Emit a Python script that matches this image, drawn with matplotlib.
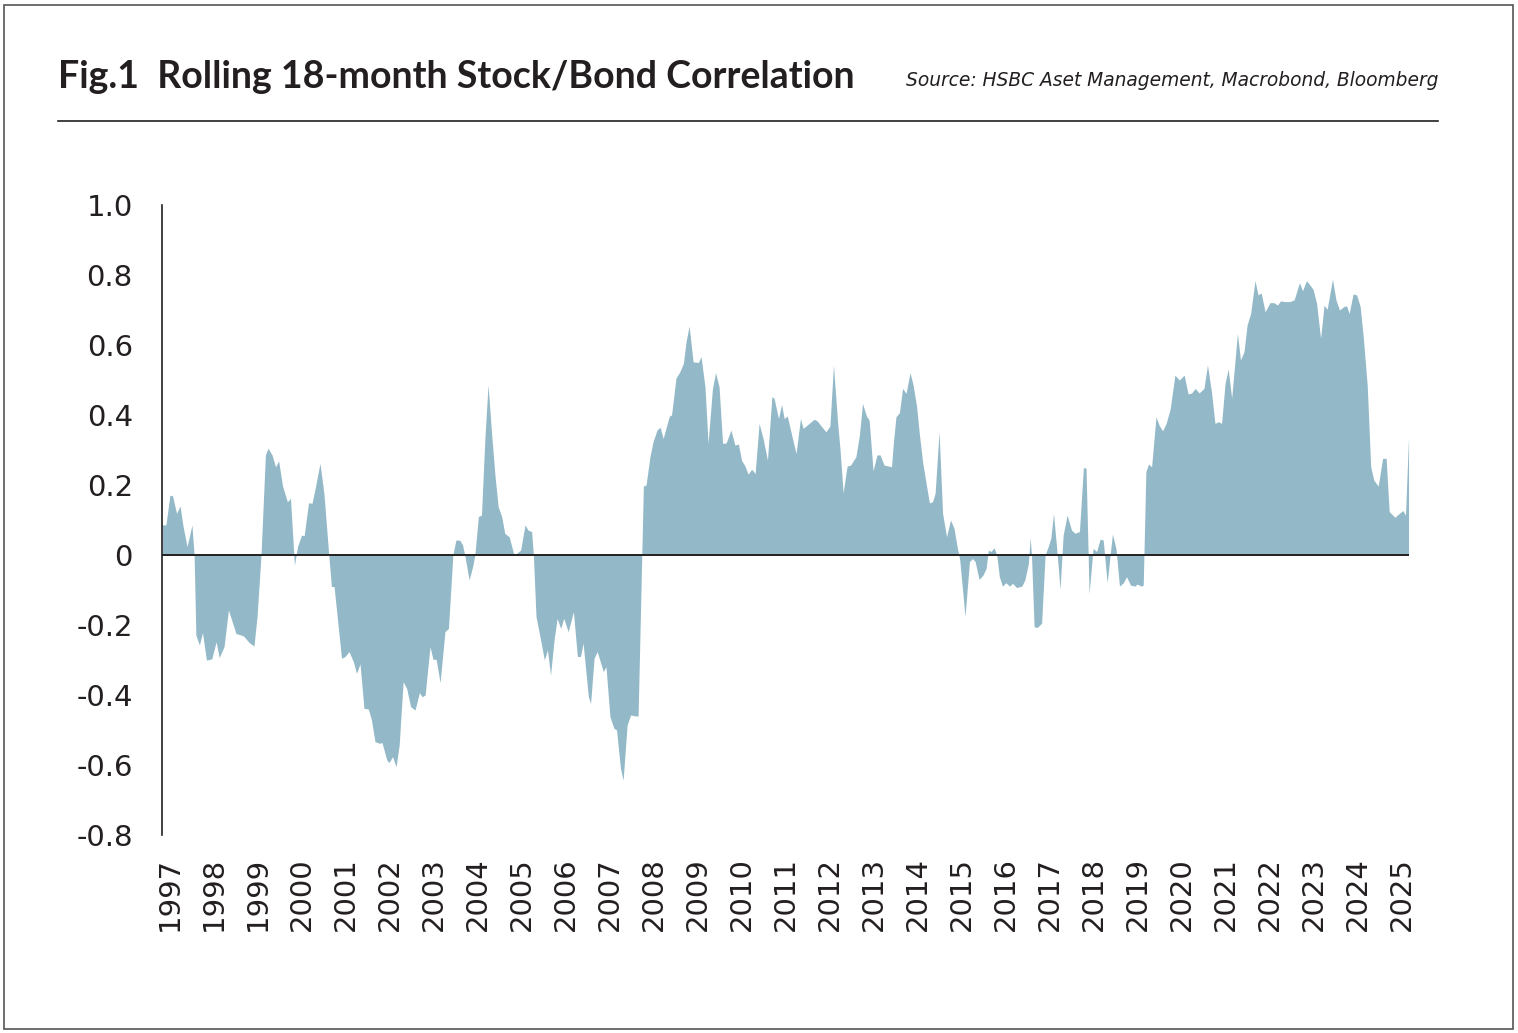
import matplotlib
matplotlib.use("Agg")
import matplotlib.pyplot as plt
import matplotlib.patches as mpatches
import numpy as np

plt.rcParams['font.family'] = ['DejaVu Sans']

# rolling 18m stock/bond correlation (decimal year, value)
dates = [
    1996.83, 1996.91, 1997.00, 1997.06, 1997.15, 1997.23, 1997.30, 1997.39, 1997.50, 1997.55,
    1997.59, 1997.67, 1997.74, 1997.83, 1997.95, 1998.05, 1998.12, 1998.23, 1998.33, 1998.50,
    1998.67, 1998.80, 1998.91, 1998.98, 1999.07, 1999.17, 1999.23, 1999.32, 1999.40, 1999.47,
    1999.56, 1999.67, 1999.74, 1999.83, 1999.90, 1999.99, 2000.05, 2000.15, 2000.23, 2000.30,
    2000.41, 2000.50, 2000.61, 2000.67, 2000.73, 2000.90, 2000.98, 2001.07, 2001.17, 2001.24,
    2001.32, 2001.41, 2001.51, 2001.58, 2001.66, 2001.76, 2001.82, 2001.93, 2001.98, 2002.06,
    2002.14, 2002.21, 2002.30, 2002.38, 2002.47, 2002.57, 2002.67, 2002.73, 2002.80, 2002.91,
    2002.98, 2003.05, 2003.14, 2003.25, 2003.33, 2003.43, 2003.50, 2003.59, 2003.65, 2003.70,
    2003.80, 2003.88, 2003.93, 2004.01, 2004.08, 2004.16, 2004.23, 2004.31, 2004.39, 2004.46,
    2004.54, 2004.61, 2004.71, 2004.82, 2004.88, 2004.97, 2005.07, 2005.14, 2005.22, 2005.26,
    2005.32, 2005.41, 2005.51, 2005.58, 2005.65, 2005.73, 2005.80, 2005.88, 2005.95, 2006.05,
    2006.17, 2006.26, 2006.33, 2006.39, 2006.51, 2006.56, 2006.64, 2006.71, 2006.85, 2006.91,
    2007.00, 2007.09, 2007.15, 2007.24, 2007.30, 2007.39, 2007.47, 2007.58, 2007.64, 2007.76,
    2007.82, 2007.91, 2007.98, 2008.07, 2008.14, 2008.21, 2008.35, 2008.40, 2008.50, 2008.59,
    2008.67, 2008.73, 2008.80, 2008.89, 2009.01, 2009.07, 2009.16, 2009.23, 2009.33, 2009.40,
    2009.48, 2009.56, 2009.64, 2009.75, 2009.84, 2009.92, 2009.99, 2010.07, 2010.14, 2010.22,
    2010.30, 2010.39, 2010.48, 2010.58, 2010.68, 2010.73, 2010.83, 2010.90, 2010.96, 2011.03,
    2011.13, 2011.23, 2011.33, 2011.39, 2011.48, 2011.64, 2011.71, 2011.81, 2011.91, 2012.00,
    2012.08, 2012.17, 2012.23, 2012.30, 2012.39, 2012.47, 2012.59, 2012.67, 2012.74, 2012.83,
    2012.89, 2012.98, 2013.07, 2013.14, 2013.23, 2013.40, 2013.44, 2013.50, 2013.58, 2013.65,
    2013.73, 2013.82, 2013.89, 2013.97, 2014.03, 2014.11, 2014.16, 2014.26, 2014.33, 2014.39,
    2014.48, 2014.56, 2014.65, 2014.74, 2014.82, 2014.89, 2014.95, 2015.07, 2015.17, 2015.24,
    2015.30, 2015.39, 2015.48, 2015.55, 2015.60, 2015.66, 2015.73, 2015.79, 2015.85, 2015.92,
    2016.00, 2016.08, 2016.15, 2016.24, 2016.36, 2016.43, 2016.51, 2016.55, 2016.58, 2016.64,
    2016.71, 2016.81, 2016.89, 2016.96, 2017.02, 2017.08, 2017.15, 2017.23, 2017.30, 2017.39,
    2017.49, 2017.57, 2017.67, 2017.76, 2017.82, 2017.89, 2017.98, 2018.06, 2018.14, 2018.21,
    2018.30, 2018.42, 2018.50, 2018.58, 2018.67, 2018.74, 2018.83, 2018.93, 2018.98, 2019.08,
    2019.12, 2019.18, 2019.24, 2019.31, 2019.41, 2019.48, 2019.56, 2019.64, 2019.73, 2019.84,
    2019.94, 2020.05, 2020.14, 2020.22, 2020.30, 2020.39, 2020.50, 2020.58, 2020.67, 2020.75,
    2020.83, 2020.90, 2020.98, 2021.05, 2021.13, 2021.26, 2021.33, 2021.41, 2021.48, 2021.56,
    2021.66, 2021.73, 2021.80, 2021.89, 2022.00, 2022.09, 2022.17, 2022.24, 2022.34, 2022.45,
    2022.55, 2022.67, 2022.74, 2022.83, 2022.91, 2022.98, 2023.06, 2023.15, 2023.23, 2023.30,
    2023.42, 2023.50, 2023.58, 2023.68, 2023.74, 2023.80, 2023.89, 2023.97, 2024.05, 2024.12,
    2024.21, 2024.29, 2024.36, 2024.46, 2024.56, 2024.64, 2024.71, 2024.84, 2024.94, 2025.02,
    2025.08, 2025.15,
]
corr = [
    0.086, 0.086, 0.171, 0.169, 0.119, 0.140, 0.081, 0.024, 0.086, 0.000,
    -0.229, -0.257, -0.222, -0.300, -0.297, -0.248, -0.293, -0.262, -0.157, -0.224,
    -0.231, -0.250, -0.260, -0.176, 0.000, 0.286, 0.305, 0.286, 0.252, 0.269,
    0.197, 0.152, 0.162, -0.029, 0.024, 0.057, 0.055, 0.149, 0.148, 0.190,
    0.262, 0.176, 0.000, -0.090, -0.090, -0.295, -0.290, -0.276, -0.305, -0.338,
    -0.311, -0.438, -0.440, -0.471, -0.533, -0.538, -0.536, -0.586, -0.593, -0.576,
    -0.605, -0.543, -0.362, -0.381, -0.433, -0.443, -0.393, -0.405, -0.400, -0.262,
    -0.298, -0.298, -0.365, -0.219, -0.210, 0.000, 0.043, 0.042, 0.029, 0.000,
    -0.071, -0.033, 0.000, 0.110, 0.114, 0.338, 0.486, 0.348, 0.224, 0.138,
    0.110, 0.062, 0.052, 0.000, 0.005, 0.014, 0.086, 0.071, 0.067, 0.000,
    -0.176, -0.233, -0.300, -0.271, -0.343, -0.243, -0.181, -0.210, -0.181, -0.219,
    -0.162, -0.290, -0.290, -0.252, -0.405, -0.424, -0.295, -0.276, -0.333, -0.319,
    -0.462, -0.495, -0.500, -0.610, -0.643, -0.486, -0.457, -0.460, -0.460, 0.197,
    0.200, 0.281, 0.324, 0.357, 0.365, 0.333, 0.397, 0.400, 0.505, 0.524,
    0.548, 0.610, 0.654, 0.552, 0.550, 0.567, 0.481, 0.319, 0.476, 0.521,
    0.481, 0.319, 0.320, 0.357, 0.314, 0.317, 0.271, 0.254, 0.231, 0.245,
    0.233, 0.376, 0.333, 0.271, 0.452, 0.448, 0.390, 0.430, 0.390, 0.397,
    0.343, 0.290, 0.390, 0.362, 0.371, 0.388, 0.383, 0.367, 0.352, 0.369,
    0.543, 0.386, 0.300, 0.178, 0.254, 0.257, 0.281, 0.343, 0.433, 0.397,
    0.386, 0.241, 0.286, 0.286, 0.257, 0.252, 0.319, 0.395, 0.407, 0.476,
    0.462, 0.521, 0.486, 0.424, 0.348, 0.262, 0.224, 0.149, 0.152, 0.176,
    0.352, 0.119, 0.052, 0.100, 0.076, 0.024, -0.014, -0.176, -0.019, -0.010,
    -0.019, -0.070, -0.057, -0.038, 0.014, 0.010, 0.021, 0.000, -0.062, -0.089,
    -0.079, -0.089, -0.081, -0.093, -0.089, -0.071, -0.024, 0.050, 0.000, -0.205,
    -0.207, -0.195, 0.000, 0.024, 0.048, 0.119, 0.024, -0.098, 0.057, 0.114,
    0.071, 0.062, 0.067, 0.250, 0.248, -0.110, 0.019, 0.010, 0.045, 0.043,
    -0.079, 0.060, 0.019, -0.089, -0.079, -0.062, -0.086, -0.089, -0.083, -0.089,
    -0.086, 0.238, 0.260, 0.252, 0.395, 0.371, 0.355, 0.376, 0.416, 0.514,
    0.500, 0.514, 0.460, 0.463, 0.476, 0.463, 0.476, 0.543, 0.467, 0.376,
    0.381, 0.376, 0.490, 0.531, 0.448, 0.633, 0.557, 0.581, 0.657, 0.690,
    0.784, 0.743, 0.749, 0.695, 0.721, 0.721, 0.714, 0.726, 0.724, 0.724,
    0.729, 0.778, 0.755, 0.784, 0.771, 0.759, 0.719, 0.619, 0.714, 0.702,
    0.788, 0.729, 0.700, 0.710, 0.712, 0.690, 0.746, 0.743, 0.710, 0.624,
    0.486, 0.252, 0.214, 0.197, 0.276, 0.276, 0.124, 0.108, 0.119, 0.127,
    0.114, 0.338,
]
years = list(range(1997, 2026))
y_ticks = [1.0, 0.8, 0.6, 0.4, 0.2, 0.0, -0.2, -0.4, -0.6, -0.8]
y_labels = ["1.0", "0.8", "0.6", "0.4", "0.2", "0", "-0.2", "-0.4", "-0.6", "-0.8"]

txt = '#231f20'
fig = plt.figure(figsize=(15.18, 10.33), dpi=100)
ax = fig.add_axes([162 / 1518, 1 - 835 / 1033, (1409 - 162) / 1518, (835 - 205) / 1033])

x = np.array(dates)
y = np.array(corr)
ax.fill_between(x, 0, y, color='#93b9c8', linewidth=0)
ax.axhline(0, color=txt, lw=1.4, zorder=3)

ax.set_xlim(dates[0] - 0.01, dates[-1] + 0.01)
ax.set_ylim(-0.8, 1.0)

for s in ['top', 'right', 'bottom']:
    ax.spines[s].set_visible(False)
ax.spines['left'].set_color(txt)
ax.spines['left'].set_linewidth(1.2)

ax.set_yticks(y_ticks)
ax.set_yticklabels(y_labels)
ax.set_yticks([1.0, 0.0, -0.8], minor=True)
ax.tick_params(axis='y', which='major', length=0, pad=21, labelsize=21, labelcolor=txt)
ax.tick_params(axis='y', which='minor', length=12, width=1.2, color=txt)

ax.set_xticks(years)
ax.set_xticklabels([str(v) for v in years], rotation=90)
ax.tick_params(axis='x', length=0, pad=16, labelsize=21, labelcolor=txt)

fig.text(58 / 1518, 1 - 77 / 1033, "Fig.1  Rolling 18-month Stock/Bond Correlation",
         fontsize=27, fontweight='bold', color=txt, va='center', ha='left',
         family=['Lato', 'DejaVu Sans'])
fig.text(1438 / 1518, 1 - 81 / 1033, "Source: HSBC Aset Management, Macrobond, Bloomberg",
         fontsize=13.4, style='italic', color=txt, va='center', ha='right')
fig.add_artist(plt.Line2D([58 / 1518, 1438 / 1518], [1 - 121 / 1033, 1 - 121 / 1033],
                          color=txt, lw=1.2))
fig.add_artist(mpatches.Rectangle((4 / 1518, 4 / 1033), 1 - 9 / 1518, 1 - 9 / 1033,
                                  fill=False, edgecolor='#555555', lw=1.2))

fig.savefig("out.png", dpi=100)
